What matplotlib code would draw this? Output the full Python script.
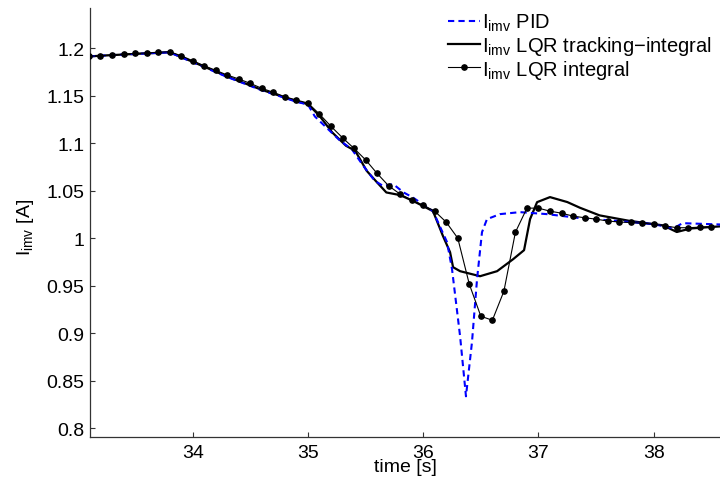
import matplotlib
matplotlib.use("Agg")
import matplotlib.pyplot as plt
from matplotlib.ticker import FuncFormatter

plt.rcParams['font.family'] = ['Liberation Sans', 'DejaVu Sans']
plt.rcParams['mathtext.fontset'] = 'custom'
plt.rcParams['mathtext.rm'] = 'Liberation Sans'
plt.rcParams['mathtext.it'] = 'Liberation Sans'
plt.rcParams['mathtext.default'] = 'regular'

# ---- data ----
t_pid = [33.1, 33.4, 33.8, 34.0, 34.3, 34.6, 34.9, 35.0, 35.06, 35.28, 35.38, 35.48,
         35.58, 35.65, 35.74, 35.83, 35.91, 36.085, 36.207, 36.25, 36.32, 36.371,
         36.423, 36.467, 36.51, 36.553, 36.666, 36.84, 37.074, 37.36, 37.708, 38.0,
         38.15, 38.2, 38.25, 38.58]
i_pid = [1.1912, 1.1932, 1.1955, 1.1850, 1.1695, 1.1555, 1.1435, 1.1405, 1.1280, 1.1024,
         1.0937, 1.0761, 1.0603, 1.0551, 1.0568, 1.0481, 1.0428, 1.0284, 0.9958, 0.9674,
         0.8968, 0.8337, 0.8905, 0.9568, 1.0063, 1.0200, 1.0253, 1.0274, 1.0253, 1.0211,
         1.0179, 1.0147, 1.0110, 1.0123, 1.0158, 1.0144]

t_trk = [33.1, 33.4, 33.8, 34.0, 34.3, 34.6, 34.9, 35.0, 35.1, 35.21, 35.33, 35.41, 35.51,
         35.6, 35.68, 35.8, 35.91, 36.085, 36.172, 36.233, 36.259, 36.32, 36.493, 36.641,
         36.78, 36.875, 36.927, 36.988, 37.1, 37.25, 37.36, 37.53, 37.79, 38.08, 38.2,
         38.32, 38.58]
i_trk = [1.1912, 1.1932, 1.1955, 1.1855, 1.1700, 1.1560, 1.1440, 1.1410, 1.1287, 1.1113,
         1.0972, 1.0919, 1.0708, 1.0586, 1.0481, 1.0453, 1.0393, 1.0284, 1.0021, 0.9853,
         0.9695, 0.9653, 0.9600, 0.9653, 0.9779, 0.9874, 1.0200, 1.0379, 1.0432, 1.0380,
         1.0320, 1.0240, 1.0182, 1.0135, 1.0065, 1.0102, 1.0125]

t_int = [33.1, 33.2, 33.3, 33.4, 33.5, 33.6, 33.7, 33.8, 33.9, 34.0, 34.1, 34.2, 34.3,
         34.4, 34.5, 34.6, 34.7, 34.8, 34.9, 35.0, 35.1, 35.2, 35.3, 35.4, 35.5, 35.6,
         35.7, 35.8, 35.9, 36.0, 36.1, 36.2, 36.3, 36.4, 36.5, 36.6, 36.7, 36.8, 36.9,
         37.0, 37.1, 37.2, 37.3, 37.4, 37.5, 37.6, 37.7, 37.8, 37.9, 38.0, 38.1, 38.2,
         38.3, 38.4, 38.5, 38.6]
i_int = [1.1912, 1.1919, 1.1926, 1.1934, 1.1944, 1.1947, 1.1955, 1.1961, 1.1919, 1.1866,
         1.1814, 1.1765, 1.1716, 1.1674, 1.1628, 1.1576, 1.1534, 1.1487, 1.1453, 1.1421,
         1.1305, 1.1176, 1.1056, 1.0944, 1.0824, 1.0681, 1.0551, 1.0463, 1.0400, 1.0347,
         1.0284, 1.0168, 1.0000, 0.9516, 0.9179, 0.9137, 0.9442, 1.0063, 1.0316, 1.0316,
         1.0284, 1.0263, 1.0232, 1.0215, 1.0200, 1.0181, 1.0170, 1.0165, 1.0158, 1.0147,
         1.0129, 1.0110, 1.0110, 1.0116, 1.0121, 1.0123]

x_ticks = [34, 35, 36, 37, 38]
y_ticks = [0.8, 0.85, 0.9, 0.95, 1.0, 1.05, 1.1, 1.15, 1.2]
labels = [r'$I_{imv}$ PID', r'$I_{imv}$ LQR tracking$-$integral', r'$I_{imv}$ LQR integral']

fig = plt.figure(figsize=(7.2, 4.81), dpi=100)
ax = fig.add_axes([0.125, 0.090, 0.875, 0.8907])

ax.plot(t_pid, i_pid, color=(0, 0, 1), lw=1.5, dashes=(3, 2), label=labels[0], zorder=3)
ax.plot(t_trk, i_trk, color='black', lw=1.6, label=labels[1], zorder=2)
ax.plot(t_int, i_int, color='black', lw=0.8, marker='o', markersize=3.8,
        label=labels[2], zorder=4)

ax.set_xlim(33.109, 38.575)
ax.set_ylim(0.7912, 1.2418)
ax.set_xticks(x_ticks)
ax.set_yticks(y_ticks)
fmt = FuncFormatter(lambda v, p: ('%g' % v))
ax.xaxis.set_major_formatter(fmt)
ax.yaxis.set_major_formatter(fmt)

for s in ['top', 'right']:
    ax.spines[s].set_visible(False)
for s in ['left', 'bottom']:
    ax.spines[s].set_color('#333333')
    ax.spines[s].set_linewidth(0.9)
ax.tick_params(direction='in', length=3.8, width=0.8, colors='#333333',
               labelcolor='black', labelsize=14)
ax.tick_params(axis='x', pad=5)
ax.tick_params(axis='y', pad=4)

ax.set_xlabel('time [s]', fontsize=14)
ax.xaxis.set_label_coords(0.5, -0.05)
ax.xaxis.label.set_va('top')
ax.set_ylabel(r'$I_{imv}$ [A]', fontsize=14)
ax.yaxis.set_label_coords(-0.103, 0.492)
ax.yaxis.label.set_va('center')

leg = fig.legend(loc='upper left', bbox_to_anchor=(448 / 720, 1 - 13 / 481), frameon=False,
                 fontsize=14.5, handlelength=1.6, handletextpad=0.1,
                 labelspacing=0.03, borderaxespad=0.0, borderpad=0.0)

fig.savefig('out.png', dpi=100)
